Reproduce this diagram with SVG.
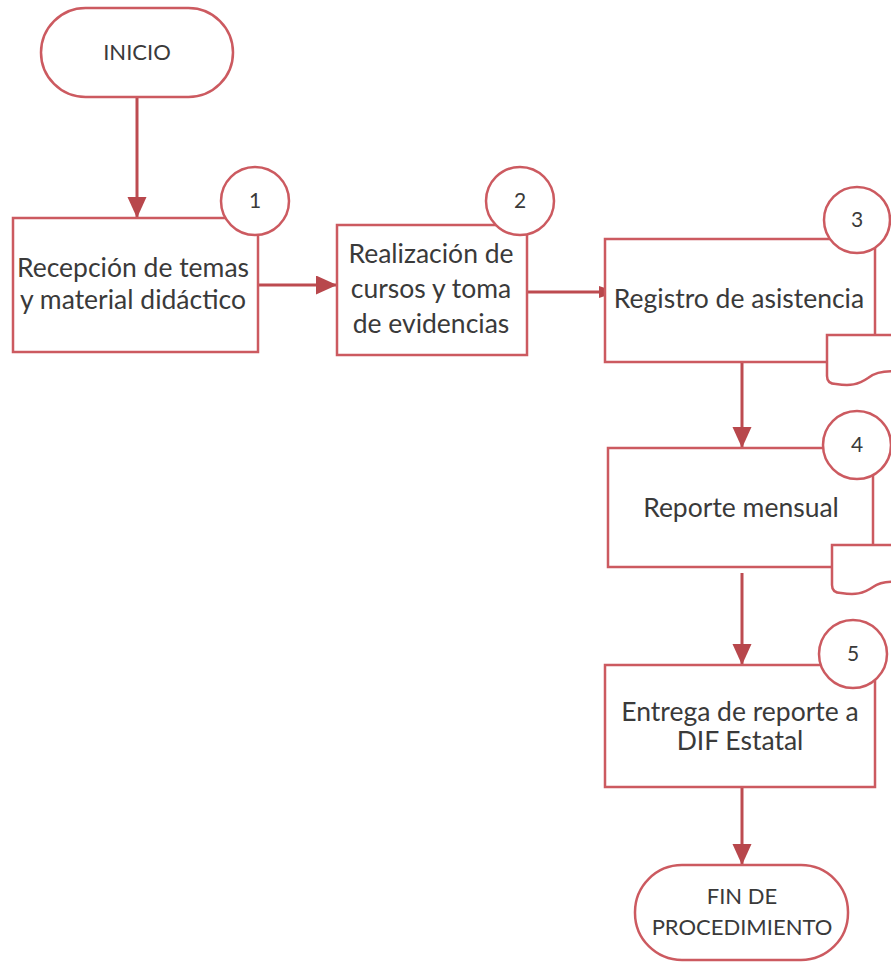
<svg xmlns="http://www.w3.org/2000/svg" width="891" height="962" viewBox="0 0 891 962">
<defs>
<marker id="ah" markerUnits="userSpaceOnUse" markerWidth="22" markerHeight="20" refX="21" refY="9.5" orient="auto">
<path d="M0,0 L21,9.5 L0,19 z" fill="#b8474c"/>
</marker>
<marker id="ahs" markerUnits="userSpaceOnUse" markerWidth="8" markerHeight="14" refX="6" refY="7" orient="auto">
<path d="M0,1 L6,3 L6,11 L0,13 z" fill="#b8474c"/>
</marker>
</defs>
<style>
.s{fill:#fff;stroke:#cc5a60;stroke-width:2.5}
.c{stroke:#bd4b50;stroke-width:3;fill:none}
.t{font-family:Lato,"Open Sans",sans-serif;fill:#3a3a3a;text-anchor:middle;font-size:26.5px}
.u{font-family:Lato,"Open Sans",sans-serif;fill:#3a3a3a;text-anchor:middle;font-size:22px}
.n{font-family:Lato,"Open Sans",sans-serif;fill:#3a3a3a;text-anchor:middle;font-size:21px}
</style>
<rect width="891" height="962" fill="#fff"/>
<g id="connectors">
<line class="c" x1="137" y1="97" x2="137" y2="218" marker-end="url(#ah)"/>
<line class="c" x1="258" y1="285" x2="337" y2="285" marker-end="url(#ah)"/>
<line class="c" x1="527" y1="292" x2="605" y2="292" stroke-width="2" marker-end="url(#ahs)"/>
<line class="c" x1="742" y1="362" x2="742" y2="448" marker-end="url(#ah)"/>
<line class="c" x1="742" y1="573" x2="742" y2="665" marker-end="url(#ah)"/>
<line class="c" x1="742" y1="787" x2="742" y2="865" marker-end="url(#ah)"/>
</g>
<g id="inicio">
<rect class="s" x="41" y="8" width="192" height="89" rx="44.5"/>
<text class="u" x="137" y="60" font-size="23.5">INICIO</text>
</g>
<g id="n1">
<rect class="s" x="13" y="218" width="245" height="134"/>
<circle class="s" cx="255" cy="201" r="34"/>
<text class="n" x="255" y="208">1</text>
<text class="t" x="133" y="277">Recepción de temas</text>
<text class="t" x="133" y="309">y material didáctico</text>
</g>
<g id="n2">
<rect class="s" x="337" y="225" width="190" height="130"/>
<circle class="s" cx="520" cy="201" r="34"/>
<text class="n" x="520" y="208">2</text>
<text class="t" x="431" y="263">Realización de</text>
<text class="t" x="431" y="298">cursos y toma</text>
<text class="t" x="431" y="333">de evidencias</text>
</g>
<g id="n3">
<rect class="s" x="605" y="239" width="270" height="123"/>
<path class="s" d="M900,335 H827 V376 Q827,384 836,384 C850,386 858,385 868,378 C876,372 885,370 900,372"/>
<circle class="s" cx="857" cy="220" r="33"/>
<text class="n" x="857" y="227">3</text>
<text class="t" x="739" y="308">Registro de asistencia</text>
</g>
<g id="n4">
<rect class="s" x="608" y="448" width="265" height="119"/>
<path class="s" d="M900,545 H832 V585 Q832,593 841,593 C855,595 863,594 873,587 C880,582 888,581 900,582"/>
<circle class="s" cx="857" cy="445" r="34"/>
<text class="n" x="857" y="452">4</text>
<text class="t" x="741" y="517">Reporte mensual</text>
</g>
<g id="n5">
<rect class="s" x="605" y="665" width="270" height="122"/>
<circle class="s" cx="853" cy="654" r="34"/>
<text class="n" x="853" y="661">5</text>
<text class="t" x="740" y="721">Entrega de reporte a</text>
<text class="t" x="740" y="750">DIF Estatal</text>
</g>
<g id="fin">
<rect class="s" x="635" y="865" width="213" height="95" rx="47"/>
<text class="u" x="742" y="904">FIN DE</text>
<text class="u" x="742" y="935">PROCEDIMIENTO</text>
</g>
</svg>
